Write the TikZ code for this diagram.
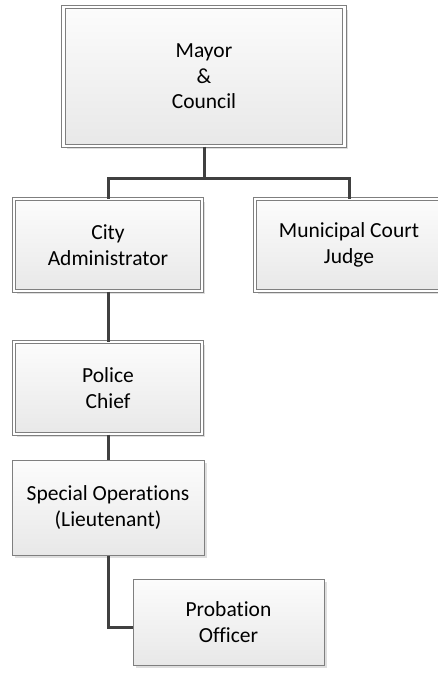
\documentclass[tikz,border=0pt]{standalone}
\usepackage{fontspec}
\setmainfont{Carlito}[Ligatures=NoCommon]
\usepackage{tikz}
\usetikzlibrary{positioning,shadows}
\definecolor{edge}{HTML}{7F7F7F}
\definecolor{wire}{HTML}{404040}
\definecolor{fillhi}{HTML}{FCFCFC}
\definecolor{filllo}{HTML}{E8E8E8}
\definecolor{shade}{HTML}{DEDEDE}
\tikzset{
  post/.style={draw=edge,line width=1pt,top color=fillhi,bottom color=filllo,
    align=center,font=\fontsize{21.5}{25.5}\selectfont,inner sep=0pt,
    drop shadow={shadow xshift=3pt,shadow yshift=-3pt,fill=shade,opacity=1}},
  dpost/.style={post,double=white,double distance=2.5pt},
  conn/.style={draw=wire,line width=3pt},
}
\begin{document}
\begin{tikzpicture}[x=1pt,y=-1pt]
\useasboundingbox (0,0) rectangle (438,677);
% top level
\node[dpost,minimum width=281pt,minimum height=139pt] (mayor) at (204,76.5) {Mayor\\\&\\Council};
\node[dpost,minimum width=188pt,minimum height=92pt] (admin) at (108,245) {City\\Administrator};
\node[dpost,minimum width=188pt,minimum height=92pt] (judge) at (349,245) {Municipal Court\\Judge};
% police line
\node[dpost,minimum width=188pt,minimum height=92pt] (chief) at (108,388) {Police\\Chief};
\node[post,minimum width=192pt,minimum height=95pt] (specops) at (108,507.5) {Special Operations\\(Lieutenant)};
\node[post,minimum width=191pt,minimum height=86pt] (probation) at (228.5,622) {Probation\\Officer};
\coordinate (split) at (204,178);
\draw[conn] (mayor) -- (split);
\draw[conn] (admin.north) |- (split) -| (judge.north);
\draw[conn] (admin) -- (chief);
\draw[conn] (chief) -- (specops);
\draw[conn] (specops.south) |- ([yshift=-5pt]probation.west);
\end{tikzpicture}
\end{document}
